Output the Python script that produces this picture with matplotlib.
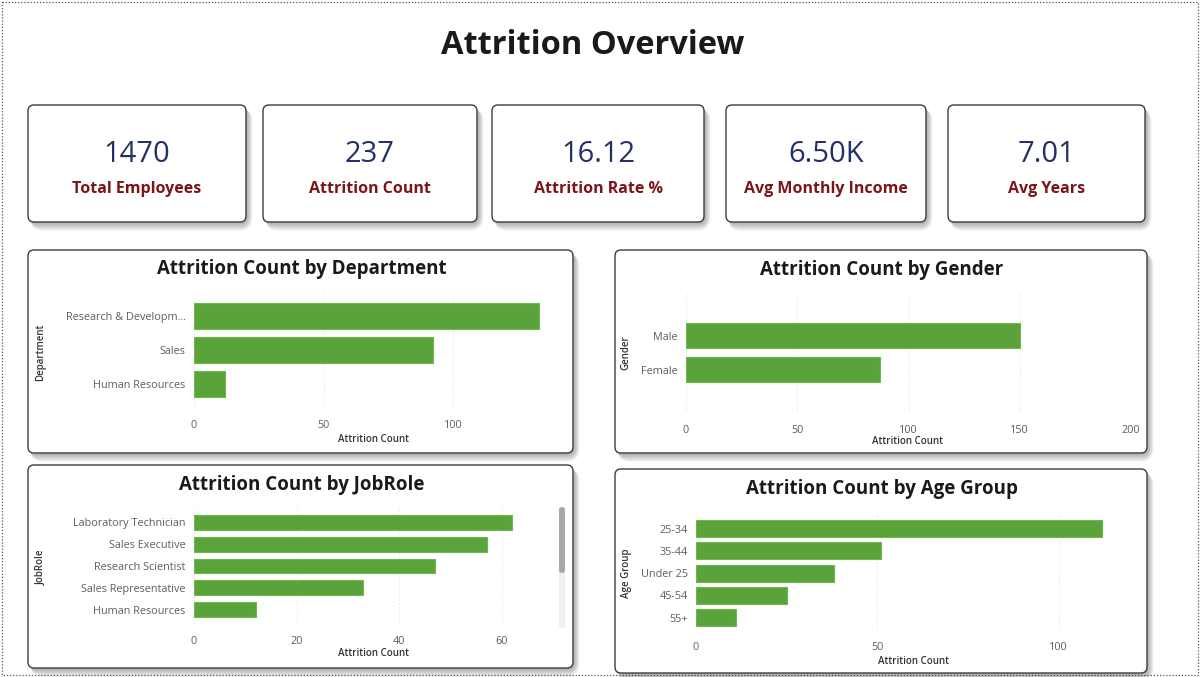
import matplotlib
matplotlib.use("Agg")
import matplotlib.pyplot as plt
from matplotlib.patches import FancyBboxPatch, Rectangle

plt.rcParams['font.family'] = ['Open Sans', 'DejaVu Sans']

# ---------------- data ----------------
kpi_values = ["1470", "237", "16.12", "6.50K", "7.01"]
kpi_labels = ["Total Employees", "Attrition Count", "Attrition Rate %",
              "Avg Monthly Income", "Avg Years"]

dept_names = ["Research & Developm...", "Sales", "Human Resources"]
dept_counts = [133, 92, 12]

gender_names = ["Male", "Female"]
gender_counts = [150, 87]

role_names = ["Laboratory Technician", "Sales Executive", "Research Scientist",
              "Sales Representative", "Human Resources"]
role_counts = [62, 57, 47, 33, 12]

age_names = ["25-34", "35-44", "Under 25", "45-54", "55+"]
age_counts = [112, 51, 38, 25, 11]

# ---------------- layout helpers ----------------
W, H = 1200, 677
fig = plt.figure(figsize=(12, 6.77), dpi=100)
fig.patch.set_facecolor("white")
bg = fig.add_axes([0, 0, 1, 1])
bg.set_xlim(0, W)
bg.set_ylim(H, 0)
bg.axis("off")

GREEN = "#5AA23A"
NAVY = "#243066"
DARKRED = "#7A1518"
TICK = "#605E5C"


def rbox(x0, y0, x1, y1, r=6, **kw):
    p = FancyBboxPatch((x0, y0), x1 - x0, y1 - y0,
                       boxstyle=f"round,pad=0,rounding_size={r}", **kw)
    bg.add_patch(p)
    return p


def panel(x0, y0, x1, y1):
    for s in range(1, 9):
        rbox(x0 + 2, y0 + 3, x1 + 1 + s * 0.7, y1 + 1 + s, r=6 + s,
             fc="black", ec="none", alpha=0.04)
    rbox(x0, y0, x1, y1, r=6, fc="white", ec="#3C3C3C", lw=1.0)


# outer dotted border
bg.add_patch(Rectangle((1.5, 1.5), W - 4, H - 4, fill=False, ec="#555555",
                       lw=0.9, ls=(0, (1, 1.5))))

# title
bg.text(593, 46, "Attrition Overview", ha="center", va="center",
        fontsize=23.5, fontweight="bold", color="#1A1A1A")

# KPI cards
card_x = [(28, 246), (263, 477), (492, 704), (726, 926), (948, 1145)]
for (x0, x1), v, lab in zip(card_x, kpi_values, kpi_labels):
    panel(x0, 105, x1, 222)
    cx = (x0 + x1) / 2
    bg.text(cx, 154, v, ha="center", va="center", fontsize=21,
            color=NAVY)
    bg.text(cx, 189, lab, ha="center", va="center", fontsize=11.5,
            fontweight="bold", color=DARKRED)

# chart panels
panels = [(28, 250, 573, 453), (615, 250, 1147, 453),
          (28, 465, 573, 668), (615, 469, 1147, 673)]
for p in panels:
    panel(*p)

# scrollbar in JobRole panel
rbox(559, 507, 565, 628, r=3, fc="#EFEFEF", ec="none")
rbox(559, 507, 565, 573, r=3, fc="#A8A8A8", ec="none")


def make_ax(l, r, t, b):
    ax = fig.add_axes([l / W, 1 - b / H, (r - l) / W, (b - t) / H])
    ax.set_facecolor("none")
    return ax


def bar_chart(box, cats, vals, xmax, ticks, ylim, bh, ylabel,
              title, title_xy, ylab_px, xlab_px):
    l, r, t, b = box
    ax = make_ax(l, r, t, b)
    ax.barh(range(len(cats)), vals, height=bh, color=GREEN,
            edgecolor="#6DB84A", linewidth=0.8, zorder=3)
    ax.set_xlim(0, xmax)
    ax.set_ylim(*ylim)
    ax.set_yticks(range(len(cats)))
    ax.set_yticklabels(cats)
    ax.set_xticks(ticks)
    ax.set_xticklabels([str(tk) for tk in ticks])
    for s in ax.spines.values():
        s.set_visible(False)
    ax.tick_params(axis="both", length=0, labelsize=7.8, labelcolor=TICK)
    ax.tick_params(axis="x", pad=9)
    ax.tick_params(axis="y", pad=6)
    ax.grid(axis="x", color="#E4E4E4", linestyle=(0, (1, 2)), lw=0.8,
            zorder=0)
    ax.set_xlabel("Attrition Count", fontsize=7, fontweight="semibold",
                  color="#333333")
    ax.set_ylabel(ylabel, fontsize=7, fontweight="semibold", color="#333333")
    ax.xaxis.label.set_va("center")
    ax.yaxis.label.set_va("center")
    ax.xaxis.set_label_coords((xlab_px[0] - l) / (r - l),
                              (b - xlab_px[1]) / (b - t))
    ax.yaxis.set_label_coords((ylab_px[0] - l) / (r - l),
                              (b - ylab_px[1]) / (b - t))
    bg.text(title_xy[0], title_xy[1] + 2, title, ha="center", va="center",
            fontsize=13.5, fontweight="bold", color="#1A1A1A")
    return ax


bar_chart((194, 544, 292, 408), dept_names, dept_counts, 135, [0, 50, 100],
          (2.72, -0.72), 0.78, "Department", "Attrition Count by Department",
          (302, 267), (41, 352), (374, 439))

bar_chart((686, 1131, 293, 412), gender_names, gender_counts, 200,
          [0, 50, 100, 150, 200], (2.25, -1.25), 0.74, "Gender",
          "Attrition Count by Gender", (882, 268), (626, 353), (908, 441))

bar_chart((194, 543, 507, 624), role_names, role_counts, 68, [0, 20, 40, 60],
          (4.65, -0.7), 0.68, "JobRole", "Attrition Count by JobRole",
          (302, 483), (41, 567), (373, 654))

bar_chart((696, 1113, 513, 630), age_names, age_counts, 115, [0, 50, 100],
          (4.56, -0.7), 0.76, "Age Group", "Attrition Count by Age Group",
          (882, 487), (627, 573), (913, 662))

fig.savefig("out.png", dpi=100)
